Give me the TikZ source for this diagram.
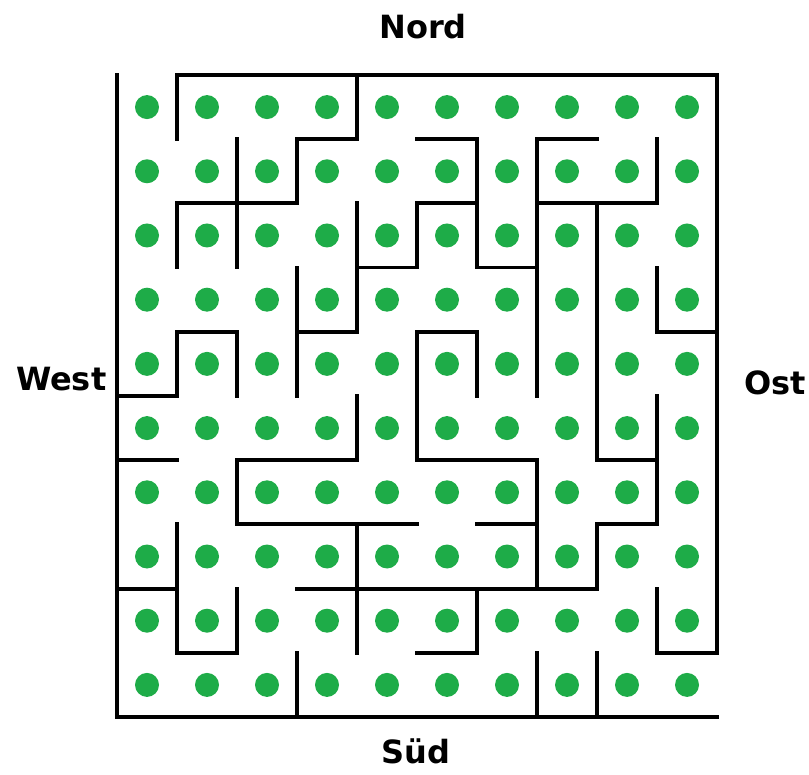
\documentclass[tikz,border=0pt]{standalone}
\usepackage{xcolor}
\usepackage{fontspec}
\setmainfont{DejaVu Sans}
\usepackage{tikz}
\usetikzlibrary{positioning}

\definecolor{dotgreen}{RGB}{30,172,72}

\begin{document}
\begin{tikzpicture}[
  x=60pt, y=-64.2pt,
  wall/.style={line width=3.8pt, line cap=rect, line join=miter},
  dot/.style={fill=dotgreen},
  dir/.style={font=\bfseries\fontsize{32}{34}\selectfont, inner sep=0pt}
]
\useasboundingbox (-1.95,-1.168) rectangle (11.533,10.903);
% dots, one per cell
\foreach \i in {0,...,9}
  \foreach \j in {0,...,9}
    \fill[dot] (\i+0.5,\j+0.5) circle (12pt);
% outer walls
\draw[wall] (1,0) -- (10,0) -- (10,9);
\draw[wall] (0,0) -- (0,10) -- (10,10);
% inner walls
\draw[wall] (1,0) -- (1,1);
\draw[wall] (4,0) -- (4,1) -- (3,1) -- (3,2) -- (1,2) -- (1,3);
\draw[wall] (2,1) -- (2,3);
\draw[wall] (5,1) -- (6,1) -- (6,3) -- (7,3);
\draw[wall] (4,2) -- (4,4) -- (3,4);
\draw[wall] (4,3) -- (5,3) -- (5,2) -- (6,2);
\draw[wall] (3,3) -- (3,5);
\draw[wall] (7,1) -- (8,1);
\draw[wall] (7,1) -- (7,5);
\draw[wall] (7,2) -- (9,2) -- (9,1);
\draw[wall] (8,2) -- (8,6) -- (9,6);
\draw[wall] (9,3) -- (9,4) -- (10,4);
\draw[wall] (0,5) -- (1,5) -- (1,4) -- (2,4) -- (2,5);
\draw[wall] (6,5) -- (6,4) -- (5,4) -- (5,6) -- (7,6) -- (7,8);
\draw[wall] (9,5) -- (9,7) -- (8,7) -- (8,8) -- (3,8);
\draw[wall] (6,7) -- (7,7);
\draw[wall] (0,6) -- (1,6);
\draw[wall] (4,5) -- (4,6) -- (2,6) -- (2,7) -- (5,7);
\draw[wall] (4,7) -- (4,9);
\draw[wall] (1,7) -- (1,9) -- (2,9) -- (2,8);
\draw[wall] (0,8) -- (1,8);
\draw[wall] (6,8) -- (6,9) -- (5,9);
\draw[wall] (9,8) -- (9,9) -- (10,9);
\draw[wall] (3,9) -- (3,10);
\draw[wall] (7,9) -- (7,10);
\draw[wall] (8,9) -- (8,10);
% compass labels
\node[dir] (nord) at (5.1,-0.76) {Nord};
\node[dir] (west) at (-0.93,4.73) {West};
\node[dir] (ost) at (10.97,4.8) {Ost};
\node[dir] (sued) at (4.98,10.54) {Süd};
\end{tikzpicture}
\end{document}
